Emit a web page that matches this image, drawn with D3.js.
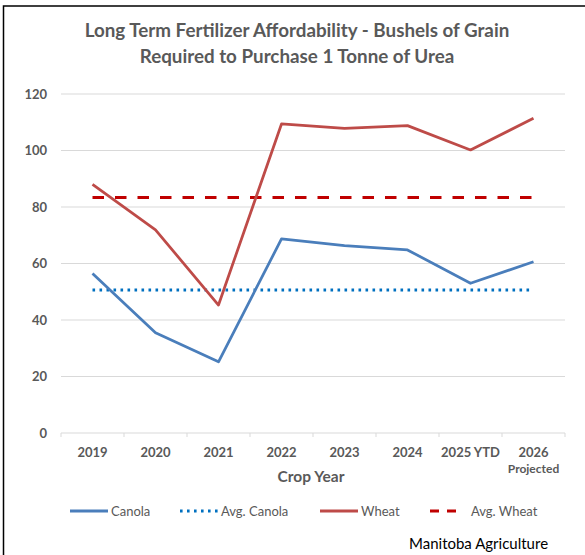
<!DOCTYPE html>
<meta charset="utf-8">
<script src="https://d3js.org/d3.v7.min.js"></script>
<style>
body { margin: 0; padding: 0; background: #fff; }
text { font-family: Lato, 'Open Sans', sans-serif; }
</style>
<body>
<div id="chart"></div>
<script>
// data
var years = ["2019", "2020", "2021", "2022", "2023", "2024", "2025 YTD", "2026 Projected"];
var canola = [56.5, 35.5, 25.2, 68.7, 66.3, 64.8, 53.0, 60.6];
var wheat = [88.0, 71.9, 45.3, 109.4, 107.8, 108.8, 100.2, 111.4];
var avgCanola = 50.6;
var avgWheat = 83.4;
var yTicks = [0, 20, 40, 60, 80, 100, 120];

var W = 585, H = 555;
var svg = d3.select("#chart").append("svg")
  .attr("width", W).attr("height", H);

// outer frame (right/bottom fall outside the picture)
svg.append("rect")
  .attr("x", 3.5).attr("y", 6).attr("width", 600).attr("height", 600)
  .attr("fill", "none").attr("stroke", "#000").attr("stroke-width", 1.5);

var x = d3.scaleBand().domain(years).range([61, 565]);
var y = d3.scaleLinear().domain([0, 120]).range([433, 94]);
var cx = function(i) { return x(years[i]) + x.bandwidth() / 2; };

// title
svg.append("text").attr("x", 297).attr("y", 37).attr("text-anchor", "middle")
  .attr("font-size", 18.8).attr("font-weight", "bold").attr("fill", "#595959")
  .text("Long Term Fertilizer Affordability - Bushels of Grain");
svg.append("text").attr("x", 297).attr("y", 63).attr("text-anchor", "middle")
  .attr("font-size", 18.8).attr("font-weight", "bold").attr("fill", "#595959")
  .text("Required to Purchase 1 Tonne of Urea");

// gridlines + y labels
svg.append("g").selectAll("line").data(yTicks.filter(function(d){ return d > 0; })).enter()
  .append("line")
    .attr("x1", 61).attr("x2", 565)
    .attr("y1", function(d){ return y(d); }).attr("y2", function(d){ return y(d); })
    .attr("stroke", "#d9d9d9").attr("stroke-width", 1);

svg.append("g").selectAll("text").data(yTicks).enter()
  .append("text")
    .attr("x", 47).attr("y", function(d){ return y(d) + 4.5; })
    .attr("text-anchor", "end").attr("font-size", 13).attr("font-weight", "bold")
    .attr("fill", "#595959")
    .text(function(d){ return d; });

// x axis
var xAxis = svg.append("g").attr("transform", "translate(0,433)");
xAxis.append("line").attr("x1", 61).attr("x2", 565).attr("stroke", "#d9d9d9");
xAxis.selectAll("line.tick").data(d3.range(years.length + 1)).enter()
  .append("line").attr("class", "tick")
    .attr("x1", function(i){ return 61 + i * x.bandwidth(); })
    .attr("x2", function(i){ return 61 + i * x.bandwidth(); })
    .attr("y1", 0).attr("y2", 4).attr("stroke", "#d9d9d9");

years.forEach(function(d, i) {
  var parts = d === "2026 Projected" ? ["2026", "Projected"] : [d];
  var t = svg.append("text").attr("text-anchor", "middle")
    .attr("font-size", 13).attr("font-weight", "bold").attr("fill", "#595959");
  parts.forEach(function(p, k) {
    t.append("tspan").attr("x", cx(i)).attr("y", 456.5 + k * 16)
      .attr("font-size", k ? 12 : 13)
      .text(p);
  });
});

svg.append("text").attr("x", 311).attr("y", 482).attr("text-anchor", "middle")
  .attr("font-size", 15.5).attr("font-weight", "bold").attr("fill", "#595959")
  .text("Crop Year");

// lines
var line = d3.line().x(function(d, i){ return cx(i); }).y(function(d){ return y(d); });

svg.append("line")
  .attr("x1", cx(0)).attr("x2", cx(years.length - 1))
  .attr("y1", y(avgCanola)).attr("y2", y(avgCanola))
  .attr("stroke", "#0070c0").attr("stroke-width", 3)
  .attr("stroke-dasharray", "2.6,4.4");

svg.append("line")
  .attr("x1", cx(0)).attr("x2", cx(years.length - 1))
  .attr("y1", y(avgWheat)).attr("y2", y(avgWheat))
  .attr("stroke", "#c00000").attr("stroke-width", 3)
  .attr("stroke-dasharray", "11.5,11");

svg.append("path").datum(canola).attr("d", line)
  .attr("fill", "none").attr("stroke", "#4a7ebb").attr("stroke-width", 2.75)
  .attr("stroke-linejoin", "round");

svg.append("path").datum(wheat).attr("d", line)
  .attr("fill", "none").attr("stroke", "#be4b48").attr("stroke-width", 2.75)
  .attr("stroke-linejoin", "round");

// legend
var legend = [
  {name: "Canola", x: 70, color: "#4a7ebb", dash: null},
  {name: "Avg. Canola", x: 180, color: "#0070c0", dash: "2.6,4.4"},
  {name: "Wheat", x: 320, color: "#be4b48", dash: null},
  {name: "Avg. Wheat", x: 430, color: "#c00000", dash: "9,8"}
];
var lg = svg.append("g").selectAll("g").data(legend).enter().append("g");
lg.append("line")
  .attr("x1", function(d){ return d.x; })
  .attr("x2", function(d){ return d.x + (d.dash === "9,8" ? 26 : 38); })
  .attr("y1", 511).attr("y2", 511)
  .attr("stroke", function(d){ return d.color; }).attr("stroke-width", 3)
  .attr("stroke-dasharray", function(d){ return d.dash; });
lg.append("text")
  .attr("x", function(d){ return d.x + 41; })
  .attr("y", 515.5).attr("font-size", 13).attr("fill", "#595959")
  .text(function(d){ return d.name; });

svg.append("text").attr("x", 409).attr("y", 549)
  .attr("font-size", 15).attr("fill", "#000")
  .text("Manitoba Agriculture");
</script>
</body>
